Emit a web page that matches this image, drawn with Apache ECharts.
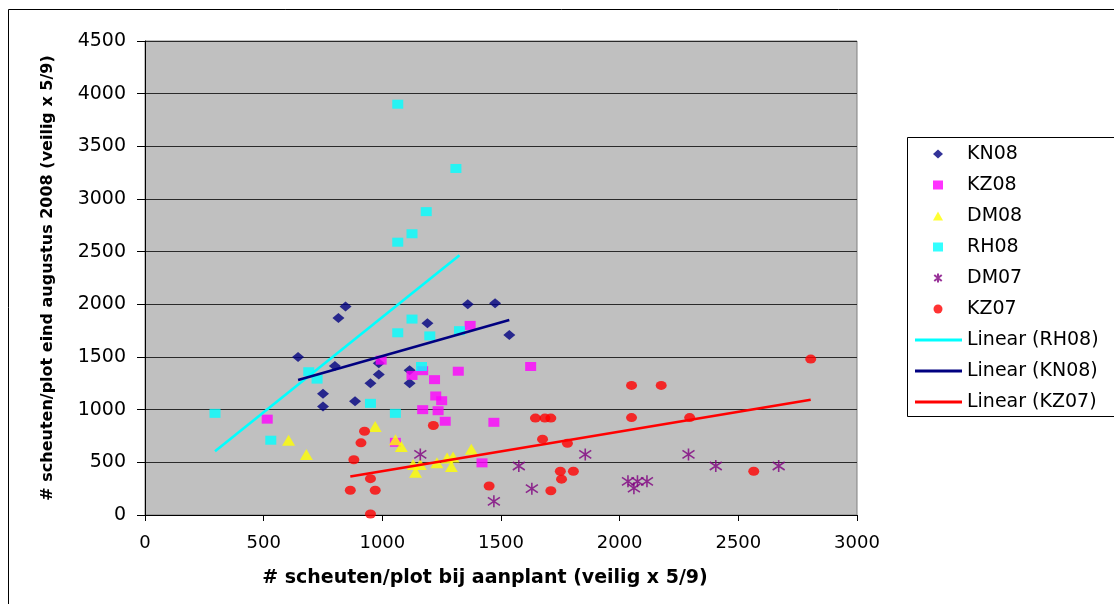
<!DOCTYPE html>
<html><head><meta charset="utf-8">
<script src="https://cdn.jsdelivr.net/npm/echarts@6/dist/echarts.min.js"></script>
<style>html,body{margin:0;padding:0;background:#fff}#c{width:1114px;height:604px}</style>
</head><body><div id="c"></div>
<script>
// x = # scheuten/plot bij aanplant, y = # scheuten/plot eind augustus 2008
const kn08 = [[845,1980],[815,1870],[1360,2000],[1475,2010],[1190,1820],[645,1500],[800,1415],[985,1440],[985,1335],[950,1250],[750,1150],[750,1030],[885,1080],[1115,1375],[1115,1250],[1535,1710]];
const kz08 = [[1370,1800],[995,1470],[1125,1325],[1170,1370],[1220,1285],[1320,1365],[1625,1410],[1225,1130],[1250,1085],[1170,1000],[1235,990],[1265,890],[1470,880],[1420,495],[1055,690],[515,910]];
const dm08 = [[605,710],[680,575],[970,840],[1055,715],[1080,650],[1375,625],[1130,480],[1160,480],[1140,405],[1230,495],[1273,540],[1298,550],[1291,460]];
const rh08 = [[1065,3900],[1310,3290],[1185,2880],[1125,2670],[1065,2590],[1125,1860],[1065,1730],[1200,1700],[1325,1750],[690,1360],[725,1290],[1165,1410],[950,1060],[1055,965],[295,965],[530,710]];
const dm07 = [[1160,575],[1575,465],[1630,250],[1470,130],[1855,575],[2035,320],[2075,320],[2115,320],[2060,255],[2290,575],[2405,465],[2670,465]];
const kz07 = [[925,795],[910,685],[880,525],[950,345],[865,235],[970,235],[950,10],[1215,850],[1450,275],[1645,920],[1685,920],[1710,920],[1675,720],[1780,680],[1750,415],[1805,415],[1755,340],[1710,230],[2050,1230],[2175,1230],[2050,925],[2295,925],[2805,1480],[2565,415]];
// trendline end points
const trendRH08 = [[295,605],[1325,2467]];
const trendKN08 = [[645,1282],[1535,1851]];
const trendKZ07 = [[865,365],[2805,1095]];
const xTicks = [0,500,1000,1500,2000,2500,3000];
const yTicks = [0,500,1000,1500,2000,2500,3000,3500,4000,4500];

const FONT = 'DejaVu Sans';
const asterisk = 'path://M6,0L6,12M1,2L11,10M1,10L11,2';

function sc(name, data, symbol, size, color, extra) {
  return Object.assign({
    name, type:'scatter', data, symbol, symbolSize:size,
    itemStyle:{color}, emphasis:{disabled:true}
  }, extra||{});
}
function tl(name, data, color) {
  return {name, type:'line', data, symbol:'none', showSymbol:false,
    lineStyle:{color, width:2.6}, itemStyle:{color}, z:5, emphasis:{disabled:true}};
}

const chart = echarts.init(document.getElementById('c'));
chart.setOption({
  animation:false,
  backgroundColor:'#fff',
  textStyle:{fontFamily:FONT},
  grid:{left:145, top:41, width:712, height:474, show:true, backgroundColor:'#C0C0C0', borderColor:'#808080', borderWidth:1},
  xAxis:{
    type:'value', min:xTicks[0], max:xTicks[xTicks.length-1], interval:500,
    name:'# scheuten/plot bij aanplant (veilig x 5/9)', nameLocation:'middle', nameGap:54,
    nameTextStyle:{fontFamily:FONT, fontWeight:'bold', fontSize:19, color:'#000', padding:[0,32,0,0]},
    axisLine:{show:true, onZero:false, lineStyle:{color:'#000', width:1}},
    axisTick:{show:true, length:6, lineStyle:{color:'#000'}},
    axisLabel:{color:'#000', fontSize:18, fontFamily:FONT, margin:19, formatter:v=>String(v)},
    splitLine:{show:false}
  },
  yAxis:{
    type:'value', min:yTicks[0], max:yTicks[yTicks.length-1], interval:500,
    name:'# scheuten/plot eind augustus 2008 (veilig x 5/9)', nameLocation:'middle', nameGap:89,
    nameTextStyle:{fontFamily:FONT, fontWeight:'bold', fontSize:16, color:'#000'},
    axisLine:{show:true, onZero:false, lineStyle:{color:'#000', width:1}},
    axisTick:{show:true, length:8, lineStyle:{color:'#000'}},
    axisLabel:{color:'#000', fontSize:19, fontFamily:FONT, margin:19, formatter:v=>String(v)},
    splitLine:{show:true, lineStyle:{color:'#2a2a2a', width:1}}
  },
  legend:[
    {orient:'vertical', left:933, top:144, padding:0, itemWidth:10, itemHeight:9, itemGap:11,
     data:['KN08','KZ08','DM08','RH08','DM07','KZ07'],
     textStyle:{fontFamily:FONT, fontSize:19, color:'#000', lineHeight:20, padding:[0,0,0,19]}},
    {orient:'vertical', left:915, top:330, padding:0, itemWidth:47, itemHeight:3, itemGap:11,
     icon:'rect',
     data:['Linear (RH08)','Linear (KN08)','Linear (KZ07)'],
     textStyle:{fontFamily:FONT, fontSize:19, color:'#000', lineHeight:20}}
  ],
  graphic:[
    {type:'rect', shape:{x:8.5, y:9.5, width:1200, height:700}, style:{fill:'none', stroke:'#000', lineWidth:1}, silent:true, z:-10},
    {type:'rect', shape:{x:907.5, y:137.5, width:300, height:279}, style:{fill:'#fff', stroke:'#000', lineWidth:1}, silent:true, z:-5}
  ],
  series:[
    sc('KN08', kn08, 'diamond', [12,10], '#000080'),
    sc('KZ08', kz08, 'rect', [11,9], '#FF00FF'),
    sc('DM08', dm08, 'triangle', [13,11], '#FFFF00'),
    sc('RH08', rh08, 'rect', [11,9], '#00FFFF'),
    sc('DM07', dm07, asterisk, [12,12], '#800080', {itemStyle:{color:'rgba(0,0,0,0)', borderColor:'#800080', borderWidth:1.6}}),
    sc('KZ07', kz07, 'circle', [11,9], '#FF0000'),
    tl('Linear (RH08)', trendRH08, '#00FFFF'),
    tl('Linear (KN08)', trendKN08, '#000080'),
    tl('Linear (KZ07)', trendKZ07, '#FF0000')
  ]
});
</script></body></html>
